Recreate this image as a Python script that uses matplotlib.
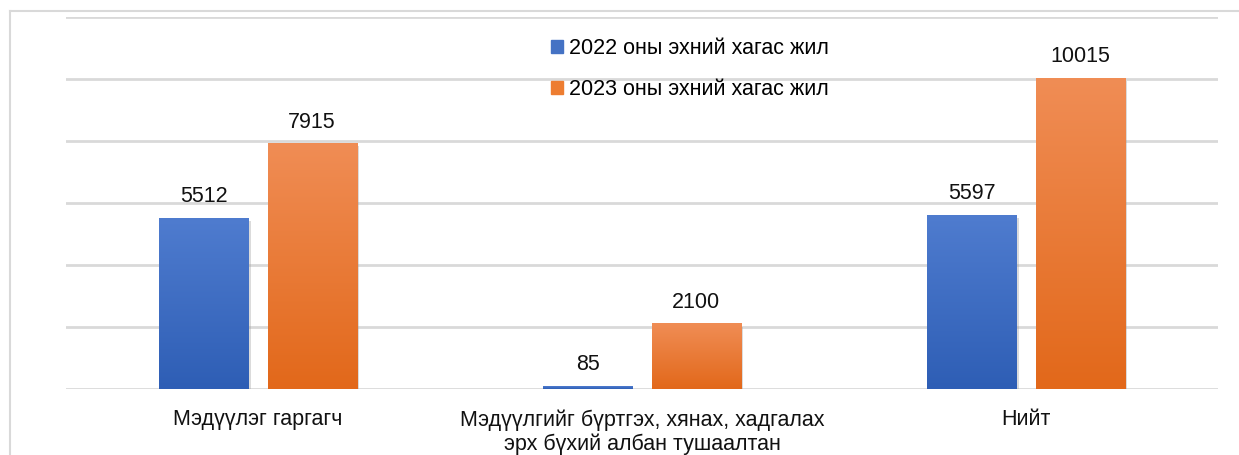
import numpy as np
import matplotlib.pyplot as plt
import matplotlib.patheffects as pe
from matplotlib.colors import LinearSegmentedColormap
from matplotlib.lines import Line2D
from matplotlib.patches import Patch

plt.rcParams['font.family'] = ['Liberation Sans', 'DejaVu Sans']

categories = ['Мэдүүлэг гаргагч',
              'Мэдүүлгийг бүртгэх, хянах, хадгалах\nэрх бүхий албан тушаалтан',
              'Нийт']
series_names = ['2022 оны эхний хагас жил', '2023 оны эхний хагас жил']
values_2022 = [5512, 85, 5597]
values_2023 = [7915, 2100, 10015]

blue_cmap = LinearSegmentedColormap.from_list('b', ['#2e5eb5', '#4f7ccf'])
orange_cmap = LinearSegmentedColormap.from_list('o', ['#e2681a', '#f08d55'])

fig = plt.figure(figsize=(12.39, 4.55), dpi=100)
ax = fig.add_axes([66/1239, 1-389/455, 1152/1239, 372/455])

x = np.arange(len(categories))
w = 0.232
off = 0.141
fs = 15.5
grad = np.linspace(0, 1, 256).reshape(-1, 1)

for vals, sign, cmap in [(values_2022, -1, blue_cmap), (values_2023, 1, orange_cmap)]:
    bars = ax.bar(x + sign*off, vals, w, color='white', zorder=2,
                  path_effects=[pe.SimplePatchShadow(offset=(2, -2), shadow_rgbFace='#999999', alpha=0.35), pe.Normal()])
    for r, v in zip(bars, vals):
        x0 = r.get_x()
        ax.imshow(grad, extent=[x0, x0 + w, 0, v], origin='lower', aspect='auto', cmap=cmap, zorder=3)
        ax.annotate(str(v), (x0 + w/2, v), xytext=(0, 8), textcoords='offset points',
                    ha='center', va='bottom', fontsize=fs, color='#111111')

ax.set_xlim(-0.5, 2.5)
ax.set_ylim(0, 12000)
ax.set_yticks(np.arange(0, 12001, 2000))
ax.yaxis.grid(True, color='#d9d9d9', linewidth=2)
ax.set_axisbelow(True)
ax.tick_params(left=False, labelleft=False, bottom=False)
ax.set_xticks(x)
ax.set_xticklabels(categories, fontsize=fs, color='#111111', linespacing=1.2)
ax.tick_params(axis='x', pad=11)
for s in ax.spines.values():
    s.set_visible(False)

handles = [Patch(color='#4472c4'), Patch(color='#ed7d31')]
ax.legend(handles, series_names, loc='upper left', bbox_to_anchor=(0.404, 0.995),
          frameon=False, fontsize=fs, handlelength=0.55, handleheight=0.55,
          handletextpad=0.3, labelspacing=0.92)

# outer chart border (top and left)
fig.add_artist(Line2D([10/1239, 1], [1-11/455, 1-11/455], color='#d9d9d9', lw=1.5))
fig.add_artist(Line2D([10/1239, 10/1239], [0, 1-11/455], color='#d9d9d9', lw=1.5))

fig.savefig('out.png', dpi=100)
